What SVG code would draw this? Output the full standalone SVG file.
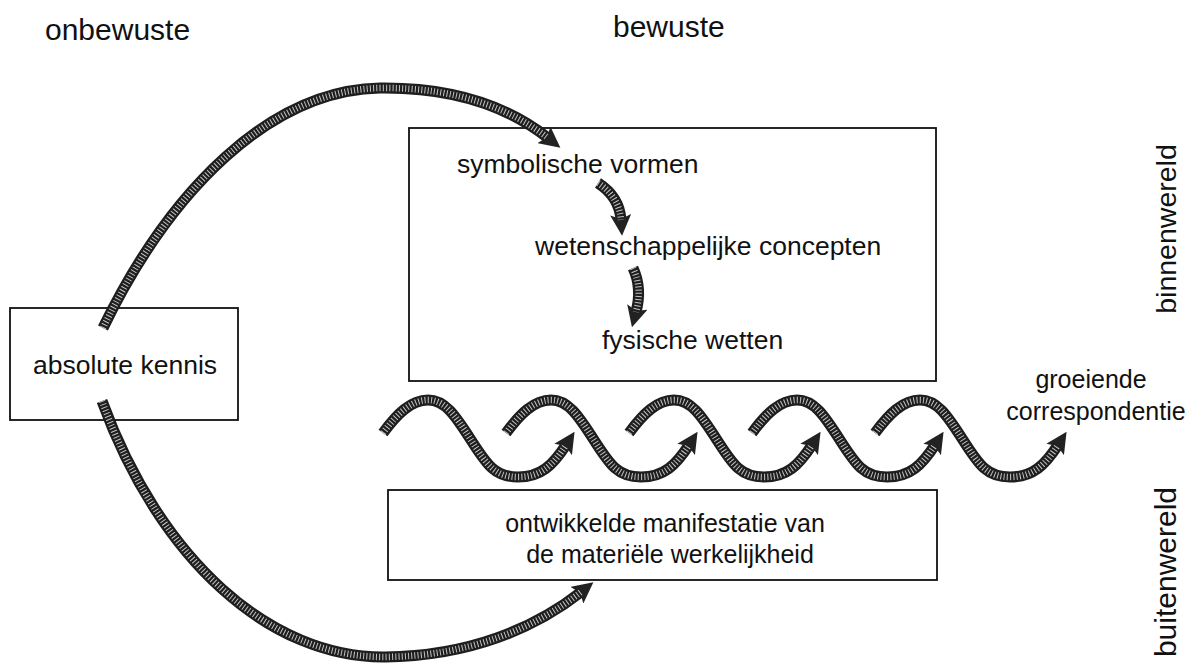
<svg xmlns="http://www.w3.org/2000/svg" width="1191" height="663" viewBox="0 0 1191 663">
<style>
text{font-family:"Liberation Sans",Arial,Helvetica,sans-serif;fill:#111}
.box{fill:none;stroke:#111;stroke-width:1.8}
.o{fill:none;stroke:#1e1e1e;stroke-width:11;marker-end:url(#ah)}
.i{fill:none;stroke:#c4c4c4;stroke-width:6.5;stroke-dasharray:1 2.2}
.t27{font-size:26.5px}
.t25{font-size:25px}
.t30{font-size:30px}
</style>
<defs>
<marker id="ah" viewBox="0 0 20 20" refX="5" refY="10" markerWidth="21" markerHeight="21" markerUnits="userSpaceOnUse" orient="auto">
<path d="M0,0 L20,10 L0,20 L4,10 Z" fill="#222"/>
</marker>
</defs>
<rect width="1191" height="663" fill="#fff"/>
<g id="headers">
<text class="t30" x="45" y="40">onbewuste</text>
<text class="t30" x="613" y="37">bewuste</text>
</g>
<g id="absolute-kennis">
<rect class="box" x="10" y="308" width="228" height="112"/>
<text class="t27" x="125" y="374" text-anchor="middle">absolute kennis</text>
</g>
<g id="binnen-box">
<rect class="box" x="409" y="128" width="527" height="253"/>
</g>
<g id="symbolische-vormen"><text class="t27" x="457" y="173">symbolische vormen</text></g>
<g id="wetenschappelijke-concepten"><text class="t27" x="535" y="255">wetenschappelijke concepten</text></g>
<g id="fysische-wetten"><text class="t27" x="602" y="349">fysische wetten</text></g>
<g id="materiele-werkelijkheid">
<rect class="box" x="388" y="490" width="549" height="90"/>
<text class="t25" x="665" y="532" text-anchor="middle">ontwikkelde manifestatie van</text>
<text class="t25" x="670" y="563" text-anchor="middle">de materiële werkelijkheid</text>
</g>
<g id="groeiende-correspondentie">
<text class="t25" x="1091" y="388" text-anchor="middle">groeiende</text>
<text class="t25" x="1096" y="420" text-anchor="middle">correspondentie</text>
</g>
<g id="binnenwereld"><text font-size="28.5" text-anchor="middle" transform="translate(1176,229) rotate(-90)">binnenwereld</text></g>
<g id="buitenwereld"><text font-size="30" text-anchor="middle" transform="translate(1176,572) rotate(-90)">buitenwereld</text></g>
<g id="connectors">
<path class="o" d="M103,328 C170,190 270,90 380,88 C462,87 515,112 548,138"/>
<path class="i" d="M103,328 C170,190 270,90 380,88 C462,87 515,112 548,138"/>
<path class="o" d="M102,401 C160,560 270,658 385,657 C470,656 535,628 581,592"/>
<path class="i" d="M102,401 C160,560 270,658 385,657 C470,656 535,628 581,592"/>
<path class="o" d="M598,183 C612,192 620,205 621,220"/>
<path class="i" d="M598,183 C612,192 620,205 621,220"/>
<path class="o" d="M633,268 C640,283 640,297 636,312"/>
<path class="i" d="M633,268 C640,283 640,297 636,312"/>
<path class="o" d="M383,433 C397,414 411,400 428,400 S455,415 471,440 S495,477 518,477 S553,465 566,445"/>
<path class="i" d="M383,433 C397,414 411,400 428,400 S455,415 471,440 S495,477 518,477 S553,465 566,445"/>
<path class="o" d="M506,433 C520,414 534,400 551,400 S578,415 594,440 S618,477 641,477 S676,465 689,445"/>
<path class="i" d="M506,433 C520,414 534,400 551,400 S578,415 594,440 S618,477 641,477 S676,465 689,445"/>
<path class="o" d="M629,433 C643,414 657,400 674,400 S701,415 717,440 S741,477 764,477 S799,465 812,445"/>
<path class="i" d="M629,433 C643,414 657,400 674,400 S701,415 717,440 S741,477 764,477 S799,465 812,445"/>
<path class="o" d="M752,433 C766,414 780,400 797,400 S824,415 840,440 S864,477 887,477 S922,465 935,445"/>
<path class="i" d="M752,433 C766,414 780,400 797,400 S824,415 840,440 S864,477 887,477 S922,465 935,445"/>
<path class="o" d="M875,433 C889,414 903,400 920,400 S947,415 963,440 S987,477 1010,477 S1045,465 1058,445"/>
<path class="i" d="M875,433 C889,414 903,400 920,400 S947,415 963,440 S987,477 1010,477 S1045,465 1058,445"/>
</g>
</svg>
